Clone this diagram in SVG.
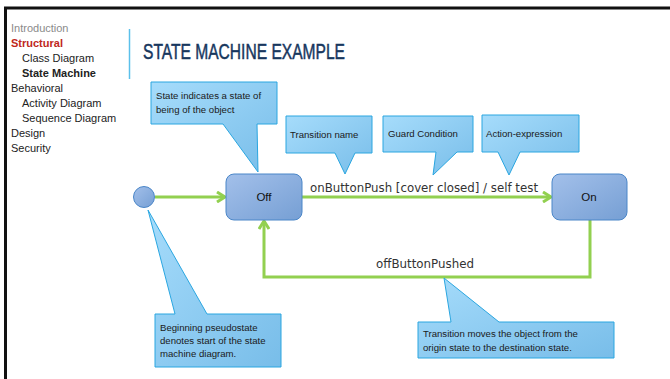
<svg xmlns="http://www.w3.org/2000/svg" width="670" height="379" viewBox="0 0 670 379">
<defs>
<linearGradient id="cg" x1="0" y1="0" x2="1" y2="1">
<stop offset="0" stop-color="#a6dcfb"/><stop offset="1" stop-color="#78bde9"/>
</linearGradient>
<linearGradient id="sg" x1="0" y1="0" x2="1" y2="1">
<stop offset="0" stop-color="#a3c0ea"/><stop offset="1" stop-color="#769fd4"/>
</linearGradient>
<marker id="ah" markerWidth="12" markerHeight="12" viewBox="0 0 12 12" refX="10" refY="6" orient="auto" markerUnits="userSpaceOnUse">
<polyline points="2,1 10,6 2,11" fill="none" stroke="#92d050" stroke-width="3"/>
</marker>
<style>
.nav{font-family:"Liberation Sans",Arial,sans-serif;font-size:11px;fill:#222}
.call{fill:url(#cg);stroke:#2aa6e0;stroke-width:1}
.ct{font-family:"Liberation Sans",Arial,sans-serif;font-size:9.6px;fill:#1a1a1a}
.state{fill:url(#sg);stroke:#4a86c8;stroke-width:1}
.st{font-family:"Liberation Sans",Arial,sans-serif;font-size:11.5px;fill:#111;text-anchor:middle}
.conn{fill:none;stroke:#92d050;stroke-width:3}
.lbl{font-family:"DejaVu Sans",sans-serif;font-size:12px;fill:#333}
</style>
</defs>
<rect width="670" height="379" fill="#fff"/>
<line x1="4" y1="8" x2="670" y2="8" stroke="#111" stroke-width="3"/>
<line x1="5.5" y1="7" x2="5.5" y2="379" stroke="#111" stroke-width="3"/>

<g id="nav">
<text class="nav" x="11" y="32" style="fill:#8a8a8a">Introduction</text>
<text class="nav" x="11" y="47" style="fill:#c0281c;font-weight:bold">Structural</text>
<text class="nav" x="22" y="62">Class Diagram</text>
<text class="nav" x="22" y="77" style="font-weight:bold">State Machine</text>
<text class="nav" x="11" y="92">Behavioral</text>
<text class="nav" x="22" y="107">Activity Diagram</text>
<text class="nav" x="22" y="122">Sequence Diagram</text>
<text class="nav" x="11" y="137">Design</text>
<text class="nav" x="11" y="152">Security</text>
</g>
<line x1="129.5" y1="29" x2="129.5" y2="79" stroke="#5bc0eb" stroke-width="1.5"/>
<text x="143" y="59" font-family="'Liberation Sans',Arial,sans-serif" font-size="22" fill="#17375e" stroke="#17375e" stroke-width="0.5" textLength="202" lengthAdjust="spacingAndGlyphs">STATE MACHINE EXAMPLE</text>

<g id="connectors">
<line class="conn" x1="155" y1="197" x2="225" y2="197" marker-end="url(#ah)"/>
<line class="conn" x1="302" y1="197" x2="551" y2="197" marker-end="url(#ah)"/>
<polyline class="conn" points="590,220 590,277 264,277 264,221" marker-end="url(#ah)"/>
<text class="lbl" x="310" y="192" textLength="228" lengthAdjust="spacingAndGlyphs">onButtonPush [cover closed] / self test</text>
<text class="lbl" x="376" y="268" textLength="98" lengthAdjust="spacingAndGlyphs">offButtonPushed</text>
</g>

<g id="initial">
<circle cx="144" cy="197" r="10.5" fill="url(#sg)" stroke="#4a86c8" stroke-width="1"/>
</g>
<g id="off">
<rect class="state" x="226" y="174" width="76" height="46" rx="8"/>
<text class="st" x="264" y="201">Off</text>
</g>
<g id="on">
<rect class="state" x="552" y="174" width="75" height="46" rx="8"/>
<text class="st" x="589" y="201">On</text>
</g>

<g id="callout-state">
<path class="call" d="M151,82 H277 V124 H257 L258,172 L223,124 H151 Z"/>
<text class="ct" x="156" y="99">State indicates a state of</text>
<text class="ct" x="156" y="113">being of the object</text>
</g>
<g id="callout-name">
<path class="call" d="M286,116 H372 V153 H355 L345,174 L335,153 H286 Z"/>
<text class="ct" x="290" y="138">Transition name</text>
</g>
<g id="callout-guard">
<path class="call" d="M383,116 H473 V152 H457 L433,175 L436,152 H383 Z"/>
<text class="ct" x="388" y="137">Guard Condition</text>
</g>
<g id="callout-action">
<path class="call" d="M482,115 H579 V152 H520 L509,175 L498,152 H482 Z"/>
<text class="ct" x="486" y="137">Action-expression</text>
</g>
<g id="callout-initial">
<path class="call" d="M155,314 H175 L148,210 L207,314 H281 V367 H155 Z"/>
<text class="ct" x="160" y="331">Beginning pseudostate</text>
<text class="ct" x="160" y="344">denotes start of the state</text>
<text class="ct" x="160" y="357">machine diagram.</text>
</g>
<g id="callout-transition">
<path class="call" d="M418,322 H451 L444,278 L499,322 H614 V358 H418 Z"/>
<text class="ct" x="423" y="337">Transition moves the object from the</text>
<text class="ct" x="423" y="351">origin state to the destination state.</text>
</g>
</svg>
